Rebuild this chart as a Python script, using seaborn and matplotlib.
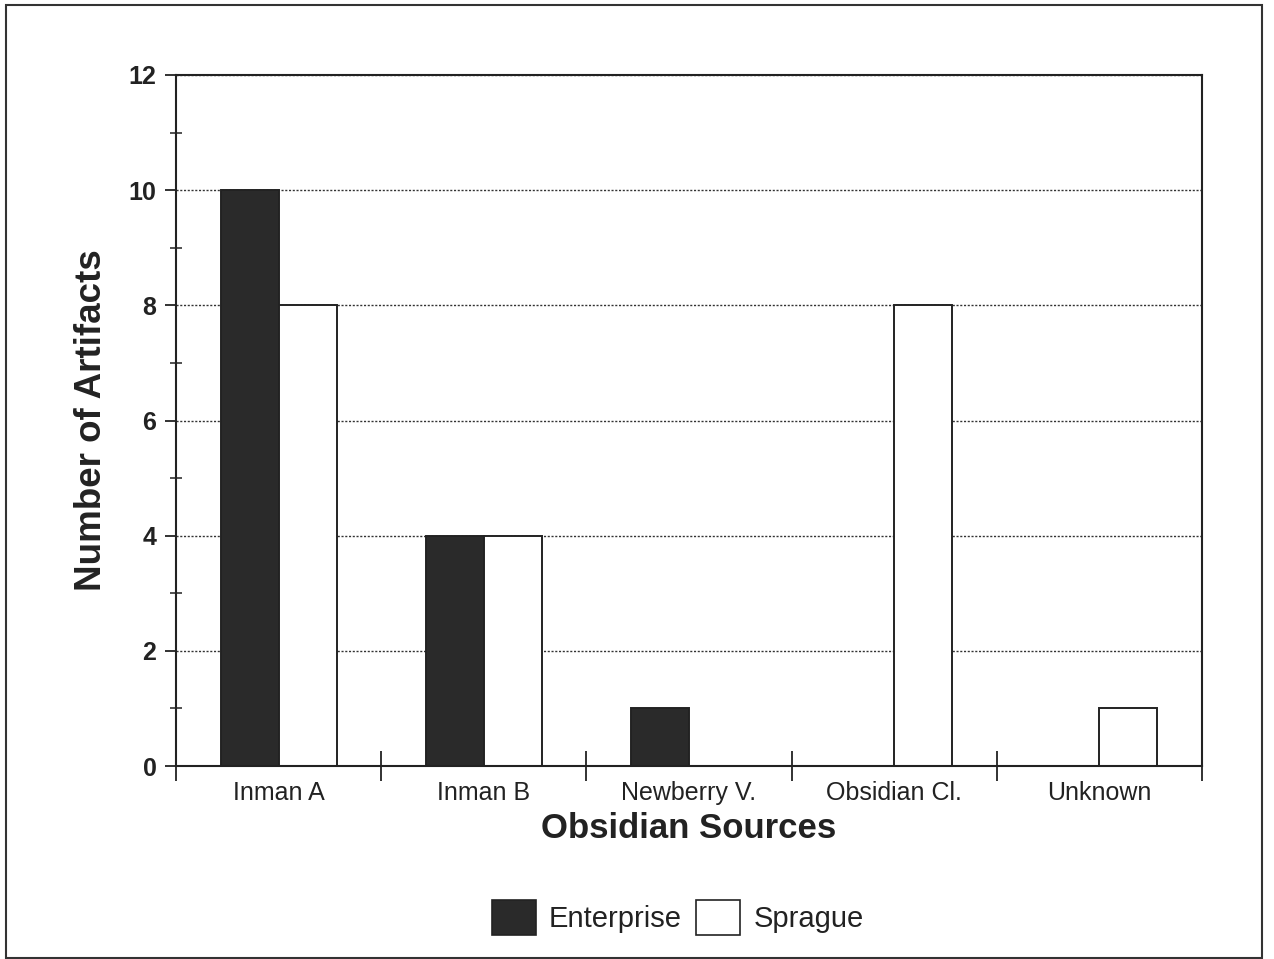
#%% import required libraries
import pandas as pd
import matplotlib.pyplot as plt
import matplotlib.patches as mpatches
from matplotlib.ticker import MultipleLocator, FixedLocator
import seaborn as sns

##############################################################################
# data
##############################################################################
sources = ["Inman A", "Inman B", "Newberry V.", "Obsidian Cl.", "Unknown"]
enterprise = [10, 4, 1, 0, 0]
sprague = [8, 4, 0, 8, 1]
sites = ["Enterprise", "Sprague"]

df = pd.DataFrame({
    "source": sources * 2,
    "site": ["Enterprise"] * len(sources) + ["Sprague"] * len(sources),
    "count": enterprise + sprague,
})

##############################################################################
# settings
##############################################################################
sns.set_theme(style="white")
plt.rcParams["font.family"] = ["Liberation Sans", "DejaVu Sans"]
ink = "#222222"

fig = plt.figure(figsize=(12.74, 9.59), dpi=100)
ax = fig.add_axes([0.1381, 0.2012, 0.8054, 0.7206])

##############################################################################
# plot
##############################################################################
sns.barplot(
    data=df,
    x="source",
    y="count",
    hue="site",
    hue_order=sites,
    order=sources,
    palette={"Enterprise": "#2a2a2a", "Sprague": "white"},
    width=0.565,
    gap=0,
    saturation=1,
    edgecolor=ink,
    linewidth=1.4,
    legend=False,
    ax=ax,
)

# layout
ax.set_xlim(-0.5, len(sources) - 0.5)
ax.set_ylim(0, 12)
ax.yaxis.set_major_locator(MultipleLocator(2))
ax.yaxis.set_minor_locator(MultipleLocator(1))
ax.xaxis.set_minor_locator(FixedLocator([i - 0.5 for i in range(len(sources) + 1)]))

ax.set_axisbelow(True)
ax.yaxis.grid(True, which="major", linestyle=(0, (1.5, 1.2)), color="#333333", linewidth=1)

for s in ax.spines.values():
    s.set_color(ink)
    s.set_linewidth(1.5)

ax.tick_params(axis="y", which="major", direction="out", length=8, width=1.3,
               color=ink, labelsize=18, labelcolor=ink, pad=6, left=True)
ax.tick_params(axis="y", which="minor", direction="inout", length=8, width=1.1,
               color=ink, left=True)
ax.tick_params(axis="x", which="major", length=0, labelsize=18, labelcolor=ink, pad=11)
ax.tick_params(axis="x", which="minor", direction="inout", length=22, width=1.3,
               color=ink, bottom=True)
for lab in ax.get_yticklabels():
    lab.set_fontweight("bold")

ax.set_xlabel("Obsidian Sources", fontsize=25, fontweight="bold", color=ink, labelpad=5)
ax.set_ylabel("Number of Artifacts", fontsize=26.5, fontweight="bold", color=ink, labelpad=14)

# legend
handles = [
    mpatches.Patch(facecolor="#2a2a2a", edgecolor=ink, linewidth=1.2, label="Enterprise"),
    mpatches.Patch(facecolor="white", edgecolor=ink, linewidth=1.2, label="Sprague"),
]
fig.legend(
    handles=handles,
    loc="center",
    bbox_to_anchor=(0.532, 0.043),
    ncol=2,
    frameon=False,
    fontsize=21,
    handlelength=1.5,
    handleheight=1.45,
    handletextpad=0.45,
    columnspacing=0.5,
    labelcolor=ink,
)

# outer frame around the whole figure
fig.add_artist(mpatches.Rectangle(
    (6 / 1274, 1 / 959), 1256 / 1274, 953 / 959,
    transform=fig.transFigure, fill=False, edgecolor="#333333", linewidth=1.5,
))

fig.savefig("out.png", dpi=100)
